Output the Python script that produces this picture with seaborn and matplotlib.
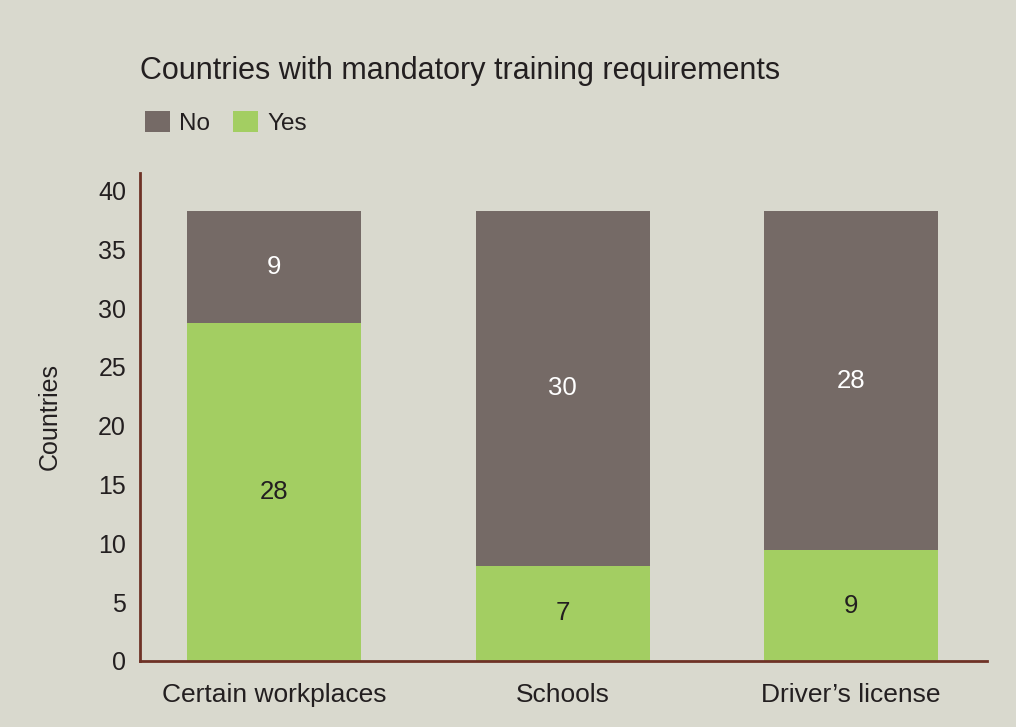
import matplotlib
matplotlib.use("Agg")
import matplotlib.pyplot as plt
import seaborn as sns
import pandas as pd
from matplotlib.patches import Patch

categories = ["Certain workplaces", "Schools", "Driver\u2019s license"]
yes_heights = [28.7, 8.1, 9.4]
no_heights = [9.6, 30.2, 28.9]
yes_labels = ["28", "7", "9"]
no_labels = ["9", "30", "28"]
yticks = [0, 5, 10, 15, 20, 25, 30, 35, 40]

BG = "#d9d9ce"
GREY = "#756a66"
GREEN = "#a3ce62"
SPINE = "#6e3226"
TXT = "#231f20"

sns.set_theme(style="white")
plt.rcParams["font.family"] = ["Liberation Sans", "DejaVu Sans"]

df = pd.DataFrame({
    "cat": categories,
    "yes": yes_heights,
    "total": [y + n for y, n in zip(yes_heights, no_heights)],
})

fig = plt.figure(figsize=(10.16, 7.27), dpi=100, facecolor=BG)
ax = fig.add_axes([0.1378, 0.0908, 0.8337, 0.6713])
ax.set_facecolor(BG)

sns.barplot(data=df, x="cat", y="total", color=GREY, width=0.603,
            saturation=1, linewidth=0, ax=ax)
sns.barplot(data=df, x="cat", y="yes", color=GREEN, width=0.603,
            saturation=1, linewidth=0, ax=ax)

for i, (y, n) in enumerate(zip(yes_heights, no_heights)):
    ax.text(i, y / 2, yes_labels[i], ha="center", va="center",
            fontsize=18.5, color=TXT)
    ax.text(i, y + n / 2, no_labels[i], ha="center", va="center",
            fontsize=18.5, color="white")

ax.set_ylim(0, 41.5)
ax.set_xlim(-0.464, 2.471)
ax.set_yticks(yticks)
ax.tick_params(axis="both", length=0, colors=TXT)
ax.tick_params(axis="x", pad=16, labelsize=19)
ax.tick_params(axis="y", pad=10, labelsize=18)
ax.set_xlabel("")
ax.set_ylabel("Countries", fontsize=18, color=TXT, labelpad=26)
for s in ["top", "right"]:
    ax.spines[s].set_visible(False)
for s in ["left", "bottom"]:
    ax.spines[s].set_color(SPINE)
    ax.spines[s].set_linewidth(2)

fig.text(0.1378, 0.903, "Countries with mandatory training requirements",
         fontsize=22, color=TXT, ha="left", va="center")

handles = [Patch(facecolor=GREY, edgecolor="none", label="No"),
           Patch(facecolor=GREEN, edgecolor="none", label="Yes")]
fig.legend(handles=handles, loc="center left", bbox_to_anchor=(0.121, 0.831),
           ncol=2, frameon=False, fontsize=17.5, handlelength=1.03,
           handleheight=0.95, handletextpad=0.37, columnspacing=0.95,
           labelcolor=TXT)

fig.savefig("out.png", dpi=100, facecolor=BG)
